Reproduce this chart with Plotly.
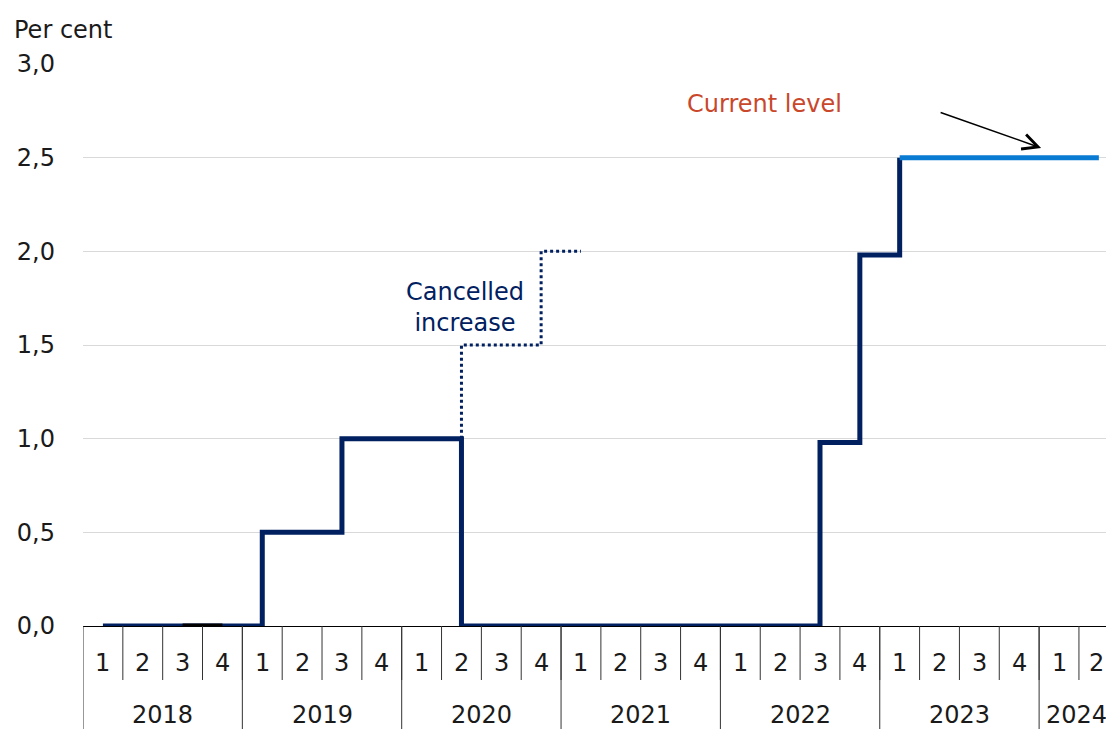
import plotly.graph_objects as go

# ---- data ----
quarter_labels = ["1", "2", "3", "4", "1", "2", "3", "4", "1", "2", "3", "4", "1", "2", "3", "4",
                  "1", "2", "3", "4", "1", "2", "3", "4", "1", "2"]
years = ["2018", "2019", "2020", "2021", "2022", "2023", "2024"]
year_quarters = [4, 4, 4, 4, 4, 4, 2]

# buffer rate by quarter (index 0 = 2018 Q1), dark series up to 2023 Q1
rate = [0, 0, 0, 0, 0.5, 0.5, 1.0, 1.0, 1.0, 0, 0, 0, 0, 0, 0, 0, 0, 0, 0.98, 1.98, 2.5]
# current level series 2023 Q1 - 2024 Q2
current = [2.5, 2.5, 2.5, 2.5, 2.5, 2.5]
current_start = 20
# cancelled increase (dotted)
cancel_x = [9, 9, 11, 12]
cancel_y = [1.0, 1.5, 2.0, 2.0]
# black segment at zero (2018 Q3-Q4)
black_x = [2, 3]
black_y = [0, 0]

y_ticks = [0, 0.5, 1.0, 1.5, 2.0, 2.5, 3.0]

NAVY = "#002060"
LIGHT = "#0A7BD3"
RED = "#C9472B"
TXT = "#1a1a1a"
FONT = "DejaVu Sans"
FS = 24

# page offset of the plot div (default body margin)
OFF = 8
x_max = 25.38
W, H = 1114 - OFF, 729 - OFF
ml, mr, mt, mb = 83 - OFF, 0, 64 - OFF, 103
ph = H - mt - mb
pw = W - ml - mr


def py(pix):
    """page pixel y (from top) -> paper y"""
    return (H - mb - (pix - OFF)) / ph


def px(pix):
    """page pixel x -> paper x"""
    return ((pix - OFF) - ml) / pw


fig = go.Figure()

fig.add_trace(go.Scatter(x=list(range(len(rate))), y=rate, mode="lines",
                         line=dict(color=NAVY, width=5, shape="hv"), hoverinfo="skip"))
fig.add_trace(go.Scatter(x=black_x, y=black_y, mode="lines",
                         line=dict(color="black", width=5), hoverinfo="skip"))
fig.add_trace(go.Scatter(x=cancel_x, y=cancel_y, mode="lines",
                         line=dict(color=NAVY, width=3, shape="hv", dash="dot"), hoverinfo="skip"))
fig.add_trace(go.Scatter(x=list(range(current_start, current_start + len(current))), y=current,
                         mode="lines", line=dict(color=LIGHT, width=5), hoverinfo="skip"))

shapes = []
annotations = []

# quarter dividers and labels (label centred in the visible part of its slot)
for i, q in enumerate(quarter_labels):
    lo, hi = i - 0.5, min(i + 0.5, x_max)
    annotations.append(dict(x=(lo + hi) / 2, y=py(663), xref="x", yref="paper", text=q,
                            showarrow=False, font=dict(family=FONT, size=FS, color=TXT),
                            xanchor="center", yanchor="middle"))
    if i > 0:
        shapes.append(dict(type="line", xref="x", yref="paper", x0=i - 0.5, x1=i - 0.5,
                           y0=0, y1=py(680), line=dict(color="#333333", width=1)))

# year dividers and labels
start = -0.5
for yr, n in zip(years, year_quarters):
    end = min(start + n, x_max)
    shapes.append(dict(type="line", xref="x", yref="paper", x0=start, x1=start,
                       y0=0, y1=py(740), line=dict(color="#333333", width=1)))
    annotations.append(dict(x=(start + end) / 2, y=py(715), xref="x", yref="paper", text=yr,
                            showarrow=False, font=dict(family=FONT, size=FS, color=TXT),
                            xanchor="center", yanchor="middle"))
    start = start + n

# text annotations
annotations.append(dict(x=px(12), y=py(30), xref="paper", yref="paper",
                        text="Per cent", showarrow=False, xanchor="left", yanchor="middle",
                        font=dict(family=FONT, size=FS, color=TXT)))
annotations.append(dict(x=9.08, y=1.70, xref="x", yref="y", text="Cancelled<br>increase",
                        showarrow=False, xanchor="center", yanchor="middle",
                        font=dict(family=FONT, size=FS, color=NAVY)))
annotations.append(dict(x=16.6, y=2.787, xref="x", yref="y", text="Current level",
                        showarrow=False, xanchor="center", yanchor="middle",
                        font=dict(family=FONT, size=FS, color=RED)))
annotations.append(dict(x=23.55, y=2.552, ax=20.99, ay=2.744, xref="x", yref="y",
                        axref="x", ayref="y", text="", showarrow=True, arrowhead=5,
                        arrowsize=2, arrowwidth=1.5, arrowcolor="black"))

fig.update_layout(
    width=W, height=H,
    margin=dict(l=ml, r=mr, t=mt, b=mb),
    plot_bgcolor="white", paper_bgcolor="white",
    showlegend=False,
    separators=",.",
    font=dict(family=FONT, size=FS, color=TXT),
    shapes=shapes, annotations=annotations,
    xaxis=dict(range=[-0.5, x_max], showgrid=False, showticklabels=False, ticks="",
               showline=True, linecolor="black", linewidth=1, zeroline=False, fixedrange=True),
    yaxis=dict(range=[0, 3.0], tickvals=y_ticks, tickformat=".1f", showgrid=True,
               gridcolor="#d9d9d9", gridwidth=1, zeroline=False, showline=False,
               ticks="", ticklabelstandoff=27,
               tickfont=dict(family=FONT, size=FS, color=TXT), fixedrange=True),
)

fig.write_html("out.html")
